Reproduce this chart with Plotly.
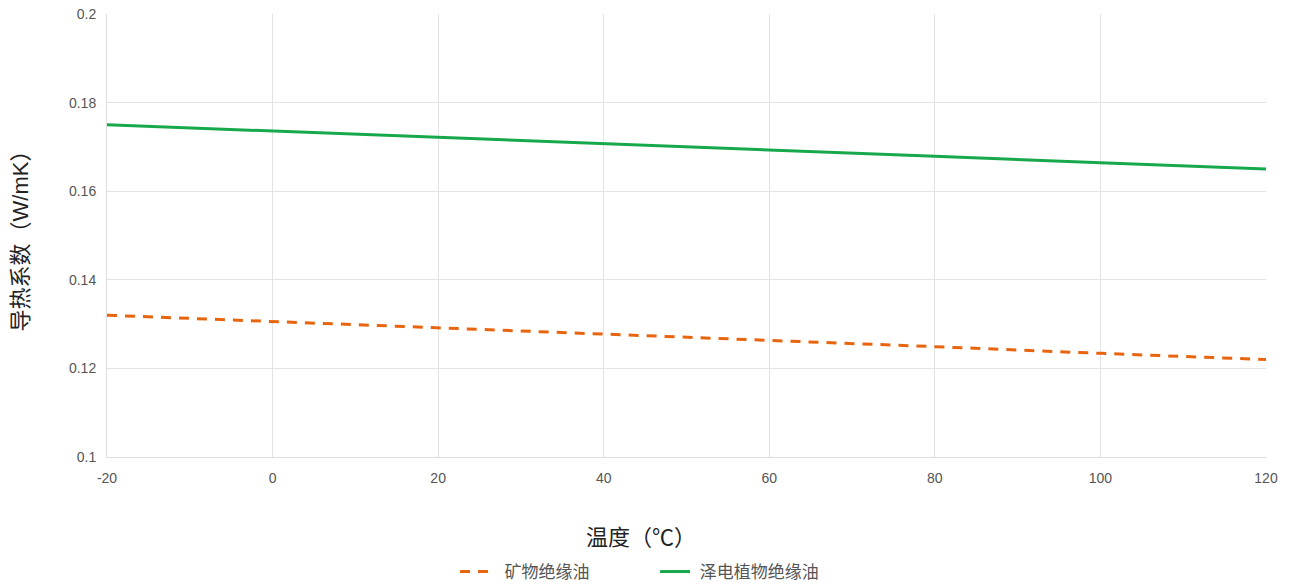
import plotly.graph_objects as go

# Temperature points (°C)
temperature = [-20, 0, 20, 40, 60, 80, 100, 120]

# Thermal conductivity (W/mK)
mineral_oil = [0.1320, 0.1306, 0.1291, 0.1277, 0.1263, 0.1249, 0.1234, 0.1220]
vegetable_oil = [0.1750, 0.1736, 0.1721, 0.1707, 0.1693, 0.1679, 0.1664, 0.1650]

series_names = ["矿物绝缘油", "泽电植物绝缘油"]
x_ticks = [-20, 0, 20, 40, 60, 80, 100, 120]
x_tick_text = ["-20", "0", "20", "40", "60", "80", "100", "120"]
y_ticks = [0.1, 0.12, 0.14, 0.16, 0.18, 0.2]
y_tick_text = ["0.1", "0.12", "0.14", "0.16", "0.18", "0.2"]
x_title = "温度（℃）"
y_title = "导热系数（W/mK）"

FONT = "Liberation Sans, Arial, Noto Sans CJK SC, sans-serif"
TITLE_FONT = dict(family=FONT, size=22, color="#222222")

fig = go.Figure()
fig.add_trace(go.Scatter(
    x=temperature, y=mineral_oil, name="\u00a0\u00a0" + series_names[0], mode="lines",
    line=dict(color="#E8650F", width=3, dash="10px,8px"),
))
fig.add_trace(go.Scatter(
    x=temperature, y=vegetable_oil, name="\u00a0" + series_names[1], mode="lines",
    line=dict(color="#18A84C", width=3),
))

fig.update_layout(
    width=1294, height=588,
    margin=dict(l=107, r=28, t=14, b=131, autoexpand=False),
    paper_bgcolor="white", plot_bgcolor="white",
    font=dict(family=FONT, color="#555555", size=14),
    showlegend=True,
    legend=dict(
        orientation="h", x=0.3003, xanchor="left", y=-0.2596, yanchor="middle",
        font=dict(size=17, color="#555555"),
        entrywidth=155, entrywidthmode="pixels",
    ),
    xaxis=dict(
        range=[-20, 120], tickvals=x_ticks, ticktext=x_tick_text, ticks="",
        showgrid=True, gridcolor="#E3E3E3", gridwidth=1,
        showline=True, linecolor="#DDDDDD", zeroline=False,
        tickfont=dict(size=14, color="#555555"),
        ticklabelstandoff=8, automargin=False,
    ),
    yaxis=dict(
        range=[0.1, 0.2], tickvals=y_ticks, ticktext=y_tick_text, ticks="",
        showgrid=True, gridcolor="#E3E3E3", gridwidth=1,
        showline=True, linecolor="#DDDDDD", zeroline=False,
        tickfont=dict(size=14, color="#555555"),
        ticklabelstandoff=7, automargin=False,
    ),
    annotations=[
        dict(text=x_title, xref="paper", yref="paper",
             x=(641 - 107) / 1159, y=(457 - 537) / 443,
             xanchor="center", yanchor="middle", showarrow=False, font=TITLE_FONT),
        dict(text=y_title, xref="paper", yref="paper",
             x=(20 - 107) / 1159, y=0.5, textangle=-90,
             xanchor="center", yanchor="middle", showarrow=False, font=TITLE_FONT),
    ],
)

fig.write_html("out.html")
